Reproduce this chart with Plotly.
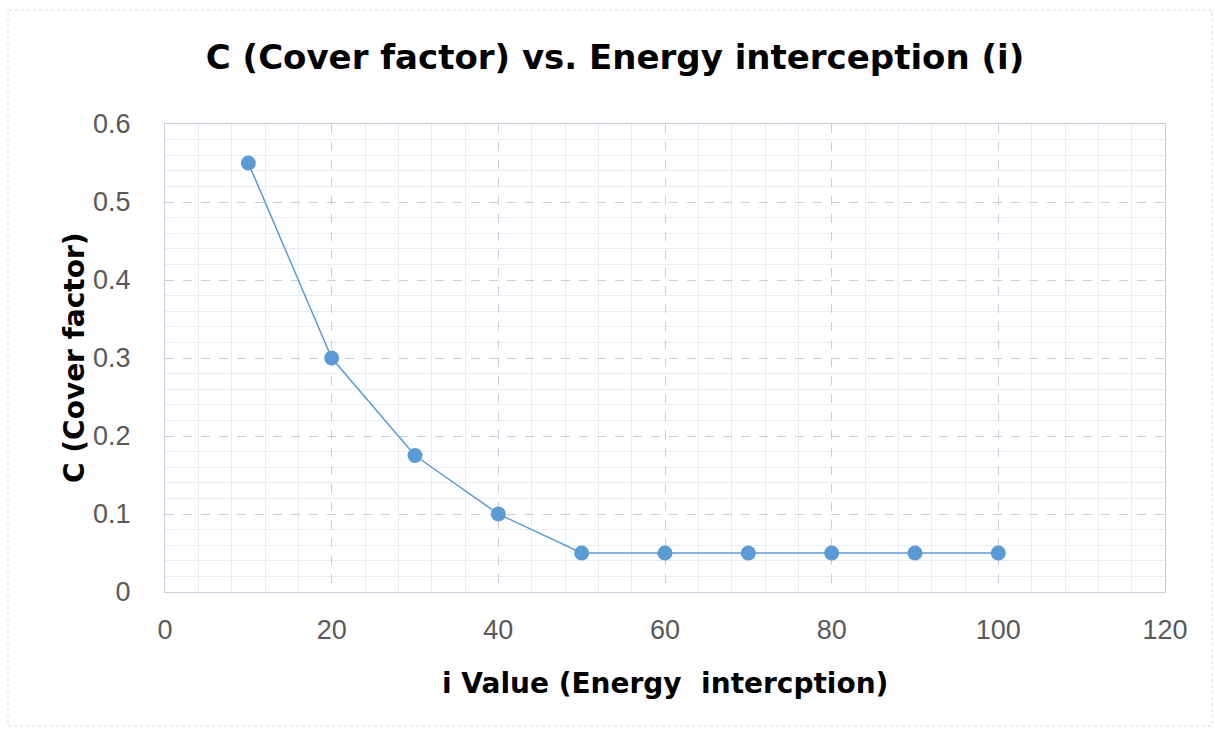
import plotly.graph_objects as go

i_values = [10, 20, 30, 40, 50, 60, 70, 80, 90, 100]
c_values = [0.55, 0.30, 0.175, 0.10, 0.05, 0.05, 0.05, 0.05, 0.05, 0.05]

title_text = "C (Cover factor) vs. Energy interception (i)"
x_title = "i Value (Energy  intercption)"
y_title = "C (Cover factor)"

fig = go.Figure()
fig.add_trace(go.Scatter(
    x=i_values, y=c_values, mode="lines+markers",
    line=dict(color="#5b9bd5", width=1.5),
    marker=dict(color="#5b9bd5", size=15),
    showlegend=False,
))

W, H = 1214, 733
L, R, T, B = 165, 49, 124, 141
PW, PH = W - L - R, H - T - B

fig.update_layout(
    width=W, height=H,
    margin=dict(l=L, r=R, t=T, b=B),
    paper_bgcolor="white", plot_bgcolor="white",
    font=dict(family="Liberation Sans, Arial, sans-serif", color="#595959"),
    title=dict(text="<b>" + title_text + "</b>", x=615 / W, xanchor="center",
               y=1 - 57 / H, yanchor="middle",
               font=dict(size=34, color="black", family="DejaVu Sans")),
    xaxis=dict(
        range=[0, 120], dtick=20, tick0=0,
        showgrid=True, gridcolor="#c5cfdd", griddash="dash", gridwidth=1,
        minor=dict(dtick=4, showgrid=True, gridcolor="#e8edf3", gridwidth=1,
                   griddash="solid"),
        showline=True, linecolor="#c5cfdd", mirror=True,
        zeroline=False, ticks="", ticklabelstandoff=14,
        tickfont=dict(size=27, color="#595959"),
    ),
    yaxis=dict(
        range=[0, 0.6], dtick=0.1, tick0=0,
        showgrid=True, gridcolor="#c5cfdd", griddash="dash", gridwidth=1,
        minor=dict(dtick=0.02, showgrid=True, gridcolor="#e8edf3", gridwidth=1,
                   griddash="solid"),
        showline=True, linecolor="#c5cfdd", mirror=True,
        zeroline=False, ticks="", ticklabelstandoff=28,
        tickfont=dict(size=27, color="#595959"),
    ),
)

fig.add_annotation(text="<b>" + x_title + "</b>", xref="paper", yref="paper",
                   x=(665 - L) / PW, y=-(683 - (T + PH)) / PH,
                   xanchor="center", yanchor="middle", showarrow=False,
                   font=dict(size=28, color="black", family="DejaVu Sans"))
fig.add_annotation(text="<b>" + y_title + "</b>", xref="paper", yref="paper",
                   x=-(L - 74) / PW, y=0.5, textangle=-90,
                   xanchor="center", yanchor="middle", showarrow=False,
                   font=dict(size=28, color="black", family="DejaVu Sans"))

# outer chart border (dashed, light)
fig.add_shape(type="rect", xref="paper", yref="paper",
              x0=(8 - L) / PW, x1=(1212 - L) / PW,
              y0=-(726 - T - PH) / PH, y1=1 + (T - 10) / PH,
              line=dict(color="#d9dde3", width=1, dash="dot"), layer="below")

fig.write_html("out.html")
